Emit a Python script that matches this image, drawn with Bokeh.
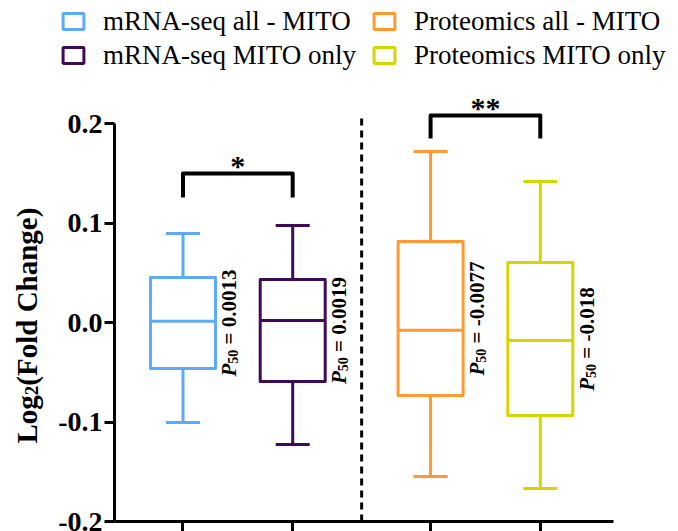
import math
from bokeh.plotting import figure
from bokeh.layouts import column, row
from bokeh.models import (Range1d, FixedTicker, Legend, LegendItem,
                          ColumnDataSource)
from bokeh.core.properties import value
from bokeh.embed import file_html
from bokeh.resources import INLINE

# ---- data -----------------------------------------------------------------
categories = ["mRNA-seq all - MITO", "mRNA-seq MITO only",
              "Proteomics all - MITO", "Proteomics MITO only"]
groups = [0, 0, 1, 1]
whisker_low = [-0.1005, -0.1226, -0.1548, -0.1668]
q1 = [-0.0462, -0.0593, -0.0734, -0.0935]
medians = [0.0013, 0.0019, -0.0077, -0.018]
q3 = [0.0452, 0.0432, 0.0814, 0.0603]
whisker_high = [0.0894, 0.0975, 0.1719, 0.1417]
colors = ["#5EAAF8", "#3F0B58", "#FF9933", "#D5D500"]

y_ticks = [-0.2, -0.1, 0.0, 0.1, 0.2]
y_tick_labels = ["-0.2", "-0.1", "0.0", "0.1", "0.2"]

comparisons = [(0, 1, "*"), (2, 3, "**")]

# ---- layout ---------------------------------------------------------------
W, H = 678, 531
TOP_H = 80          # legend strip
YL_W = 50           # strip holding the y-axis title
MAIN_W = W - YL_W
MAIN_H = H - TOP_H
BORDER_L, BORDER_R, BORDER_B = 114 - YL_W, 65, 10
FRAME_W = MAIN_W - BORDER_L - BORDER_R
FRAME_H = MAIN_H - BORDER_B

GROUP_GAP = 0.257
xs = [i + 1 + GROUP_GAP * g for i, g in enumerate(groups)]
x_start = 0.3756
PPX = 109.7
x_end = x_start + FRAME_W / PPX

y_start = -0.2
PPY = 995.0
y_end = y_start + FRAME_H / PPY
y_range = Range1d(y_start, y_end)

BOX_HALF = 32.5 / PPX
CAP_HALF = 17.0 / PPX

FONT = value("Liberation Serif")
rot = math.pi / 2

p = figure(width=MAIN_W, height=MAIN_H, output_backend="svg",
           toolbar_location=None, title=None,
           x_range=Range1d(x_start, x_end), y_range=y_range,
           min_border_left=BORDER_L, min_border_right=BORDER_R,
           min_border_top=0, min_border_bottom=BORDER_B)
p.outline_line_color = None
p.xgrid.visible = False
p.ygrid.visible = False

# ---- axes -----------------------------------------------------------------
ya = p.yaxis[0]
ya.ticker = FixedTicker(ticks=y_ticks)
ya.major_label_overrides = {t: s for t, s in zip(y_ticks, y_tick_labels)}
ya.bounds = (-0.2, 0.2)
ya.axis_line_width = 3
ya.major_tick_line_width = 3
ya.major_tick_out = 10
ya.major_tick_in = 0
ya.minor_tick_line_color = None
ya.major_label_standoff = 2
ya.major_label_text_font = "Liberation Serif"
ya.major_label_text_font_style = "bold"
ya.major_label_text_font_size = "28px"
ya.major_label_text_color = "black"

xa = p.xaxis[0]
xa.ticker = FixedTicker(ticks=xs)
xa.major_label_overrides = {x: "" for x in xs}
xa.axis_line_width = 3
xa.major_tick_line_width = 3
xa.major_tick_out = 10
xa.major_tick_in = 0
xa.minor_tick_line_color = None
xa.major_label_standoff = 0

# ---- boxes ----------------------------------------------------------------
src = ColumnDataSource(dict(
    x=xs,
    left=[x - BOX_HALF for x in xs], right=[x + BOX_HALF for x in xs],
    cl=[x - CAP_HALF for x in xs], cr=[x + CAP_HALF for x in xs],
    lo=whisker_low, q1=q1, med=medians, q3=q3, hi=whisker_high,
    color=colors,
))

p.segment(x0="x", y0="q3", x1="x", y1="hi", source=src, line_color="color",
          line_width=3)
p.segment(x0="x", y0="q1", x1="x", y1="lo", source=src, line_color="color",
          line_width=3)
p.segment(x0="cl", y0="hi", x1="cr", y1="hi", source=src, line_color="color",
          line_width=3)
p.segment(x0="cl", y0="lo", x1="cr", y1="lo", source=src, line_color="color",
          line_width=3)
p.quad(left="left", right="right", bottom="q1", top="q3", source=src,
       fill_color="white", line_color="color", line_width=3,
       line_join="round")
p.segment(x0="left", y0="med", x1="right", y1="med", source=src,
          line_color="color", line_width=3)

# dashed separator between the two groups
sep_x = (xs[1] + xs[2]) / 2
p.segment(x0=[sep_x], y0=[-0.2], x1=[sep_x], y1=[0.205], line_color="black",
          line_width=3, line_dash="7 5")

# ---- median annotations (rotated "P50 = value") ---------------------------
FS_MAIN, FS_SUB = 21, 14
ADV = {"0": .5, "1": .5, "2": .5, "3": .5, "4": .5, "5": .5, "6": .5,
       "7": .5, "8": .5, "9": .5, ".": .25, "-": .333, "=": .57, " ": .25}


def text_w(s, fs):
    return sum(ADV.get(c, .5) for c in s) * fs


w_p = 0.611 * FS_MAIN
w_sub = text_w("50", FS_SUB)
gap = 0.25 * FS_MAIN
base_dx = 46.5 / PPX
sub_dx = (46.5 + 4) / PPX

p_x, p_y, s_x, s_y, r_x, r_y, r_txt = [], [], [], [], [], [], []
for x, a, b, m in zip(xs, q1, q3, medians):
    rest = "= " + str(m)
    total = w_p + w_sub + gap + text_w(rest, FS_MAIN)
    mid = (a + b) / 2
    y0 = mid - (total / 2) / PPY
    p_x.append(x + base_dx); p_y.append(y0)
    s_x.append(x + sub_dx); s_y.append(y0 + w_p / PPY)
    r_x.append(x + base_dx); r_y.append(y0 + (w_p + w_sub + gap) / PPY)
    r_txt.append(rest)

p.text(x=p_x, y=p_y, text=["P"] * len(xs), angle=rot, text_font=FONT,
       text_font_style="bold italic", text_font_size=f"{FS_MAIN}px",
       text_align="left", text_baseline="alphabetic", text_color="black")
p.text(x=s_x, y=s_y, text=["50"] * len(xs), angle=rot, text_font=FONT,
       text_font_style="bold", text_font_size=f"{FS_SUB}px",
       text_align="left", text_baseline="alphabetic", text_color="black")
p.text(x=r_x, y=r_y, text=r_txt, angle=rot, text_font=FONT,
       text_font_style="bold", text_font_size=f"{FS_MAIN}px",
       text_align="left", text_baseline="alphabetic", text_color="black")

# ---- significance brackets -------------------------------------------------
bracket_top = [0.1497, 0.2080]
bracket_leg = [0.1256, 0.1849]
for (i, j, mark), top, leg in zip(comparisons, bracket_top, bracket_leg):
    p.line(x=[xs[i], xs[i], xs[j], xs[j]], y=[leg, top, top, leg],
           line_color="black", line_width=4, line_join="round")
    p.text(x=[(xs[i] + xs[j]) / 2], y=[top + 8 / PPY], text=[mark],
           text_font=FONT, text_font_style="bold", text_font_size="30px",
           text_align="center", text_baseline="alphabetic",
           text_color="black")

# ---- y axis title strip ----------------------------------------------------
yl = figure(width=YL_W, height=MAIN_H, output_backend="svg",
            toolbar_location=None, title=None, x_axis_type=None,
            y_axis_type=None, x_range=Range1d(0, YL_W), y_range=y_range,
            min_border_left=0, min_border_right=0, min_border_top=0,
            min_border_bottom=BORDER_B)
yl.outline_line_color = None

YL_FS, YL_SUB = 29, 19
yl_base = 26
yl_start = 0.2 - (443 - 123) / PPY
w_log = (0.667 + 0.5 + 0.5) * YL_FS
w_two = 0.5 * YL_SUB
for txt, fs, dx, dy in [("Log", YL_FS, 0, 0),
                        ("2", YL_SUB, 5, w_log),
                        ("(Fold Change)", YL_FS, 0, w_log + w_two)]:
    yl.text(x=[yl_base + dx], y=[yl_start + dy / PPY], text=[txt],
            angle=rot, text_font=FONT, text_font_style="bold",
            text_font_size=f"{fs}px", text_align="left",
            text_baseline="alphabetic", text_color="black")

# ---- legend strip ----------------------------------------------------------
lg = figure(width=W, height=TOP_H, output_backend="svg",
            toolbar_location=None, title=None, x_axis_type=None,
            y_axis_type=None, x_range=Range1d(100, 200),
            y_range=Range1d(100, 200), min_border=0)
lg.outline_line_color = None
swatches = lg.quad(left="left", right="right", bottom="q1", top="q3",
                   source=src, fill_color="white", line_color="color",
                   line_width=3)


def make_legend(idx, left_px):
    items = [LegendItem(label=categories[k], renderers=[swatches], index=k)
             for k in idx]
    return Legend(items=items, location=(left_px, TOP_H - 70.5),
                  orientation="vertical", glyph_width=26, glyph_height=20,
                  label_standoff=17, spacing=3, padding=0, margin=0,
                  border_line_color=None, background_fill_alpha=0,
                  label_text_font="Liberation Serif",
                  label_text_font_size="27px", label_text_color="black")


lg.add_layout(make_legend([0, 1], 60))
lg.add_layout(make_legend([2, 3], 371))

layout = column(lg, row(yl, p, spacing=0), spacing=0)
open("out.html", "w").write(file_html(layout, INLINE))
